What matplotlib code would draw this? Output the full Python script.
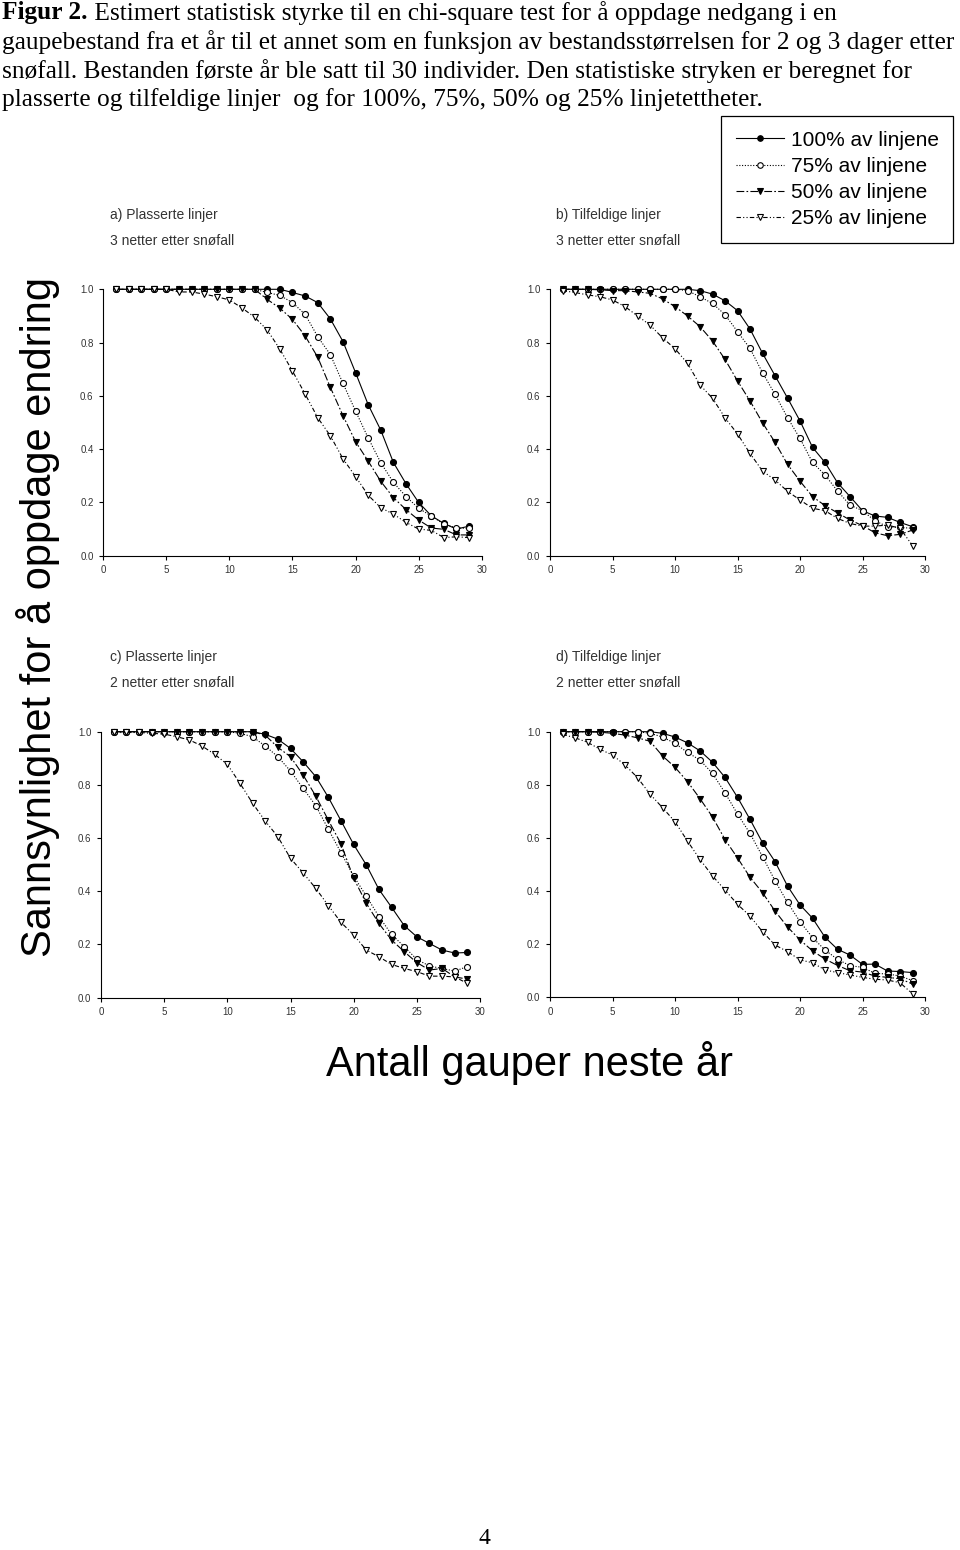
import matplotlib
matplotlib.use("Agg")
import matplotlib.pyplot as plt
from matplotlib.lines import Line2D

# ---------------- data ----------------
x_vals = list(range(1, 30))

series_labels = ["100% av linjene", "75% av linjene", "50% av linjene", "25% av linjene"]

# a) Plasserte linjer, 3 netter etter snøfall
a_100 = [1.0]*14 + [0.988, 0.975, 0.95, 0.889, 0.804, 0.687, 0.567, 0.471, 0.35, 0.27,
                    0.2, 0.15, 0.121, 0.10, 0.111]
a_75 = [1.0]*12 + [0.988, 0.977, 0.95, 0.906, 0.822, 0.755, 0.647, 0.543, 0.442, 0.349,
                   0.275, 0.222, 0.178, 0.149, 0.119, 0.104, 0.103]
a_50 = [1.0]*12 + [0.962, 0.929, 0.887, 0.825, 0.745, 0.632, 0.526, 0.428, 0.355, 0.279,
                   0.218, 0.173, 0.134, 0.104, 0.099, 0.078, 0.078]
a_25 = [1.0, 1.0, 1.0, 1.0, 1.0, 0.99, 0.99, 0.982, 0.972, 0.96, 0.93, 0.895, 0.847, 0.775,
        0.693, 0.607, 0.518, 0.45, 0.364, 0.297, 0.227, 0.18, 0.156, 0.125, 0.10, 0.095,
        0.068, 0.071, 0.068]

# b) Tilfeldige linjer, 3 netter etter snøfall
b_100 = [1.0]*11 + [0.995, 0.982, 0.957, 0.92, 0.851, 0.76, 0.676, 0.592, 0.506, 0.407,
                    0.35, 0.274, 0.222, 0.169, 0.149, 0.144, 0.125, 0.109]
b_75 = [1.0]*10 + [0.995, 0.972, 0.947, 0.905, 0.841, 0.778, 0.687, 0.606, 0.518, 0.44,
                   0.35, 0.303, 0.243, 0.19, 0.169, 0.131, 0.109, 0.106, 0.103]
b_50 = [1.0, 1.0, 1.0, 0.998, 0.995, 0.995, 0.99, 0.985, 0.964, 0.935, 0.9, 0.86, 0.806,
        0.737, 0.656, 0.581, 0.499, 0.426, 0.343, 0.28, 0.222, 0.188, 0.161, 0.134, 0.113,
        0.086, 0.075, 0.08, 0.096]
b_25 = [0.995, 0.988, 0.979, 0.972, 0.96, 0.935, 0.9, 0.866, 0.818, 0.777, 0.722, 0.641,
        0.591, 0.518, 0.457, 0.384, 0.318, 0.284, 0.242, 0.209, 0.178, 0.169, 0.14, 0.121,
        0.111, 0.111, 0.115, 0.103, 0.038]

# c) Plasserte linjer, 2 netter etter snøfall
c_100 = [1.0]*12 + [0.99, 0.972, 0.937, 0.887, 0.831, 0.753, 0.665, 0.576, 0.499, 0.407,
                    0.34, 0.271, 0.229, 0.204, 0.179, 0.168, 0.17]
c_75 = [1.0]*10 + [0.994, 0.981, 0.946, 0.906, 0.852, 0.787, 0.722, 0.633, 0.545, 0.457,
                   0.382, 0.305, 0.238, 0.192, 0.144, 0.119, 0.11, 0.10, 0.117]
c_50 = [1.0]*12 + [0.987, 0.941, 0.906, 0.837, 0.758, 0.667, 0.578, 0.449, 0.355, 0.279,
                   0.217, 0.173, 0.132, 0.104, 0.11, 0.078, 0.07]
c_25 = [0.997, 0.997, 0.997, 0.994, 0.991, 0.981, 0.969, 0.946, 0.915, 0.877, 0.806, 0.731,
        0.664, 0.605, 0.524, 0.469, 0.411, 0.346, 0.283, 0.236, 0.179, 0.154, 0.125, 0.11,
        0.098, 0.081, 0.081, 0.078, 0.054]

# d) Tilfeldige linjer, 2 netter etter snøfall
d_100 = [1.0]*8 + [0.994, 0.98, 0.958, 0.928, 0.885, 0.828, 0.753, 0.67, 0.582, 0.511,
                   0.419, 0.348, 0.298, 0.226, 0.181, 0.159, 0.124, 0.125, 0.099, 0.097, 0.093]
d_75 = [1.0]*7 + [0.994, 0.98, 0.956, 0.922, 0.893, 0.843, 0.77, 0.69, 0.617, 0.53, 0.439,
                  0.357, 0.285, 0.225, 0.178, 0.143, 0.119, 0.113, 0.09, 0.088, 0.08, 0.063]
d_50 = [1.0, 1.0, 1.0, 0.998, 0.994, 0.987, 0.977, 0.964, 0.909, 0.866, 0.812, 0.748,
        0.679, 0.594, 0.525, 0.452, 0.394, 0.325, 0.265, 0.216, 0.175, 0.144, 0.12, 0.10,
        0.095, 0.08, 0.075, 0.07, 0.05]
d_25 = [0.99, 0.977, 0.96, 0.934, 0.912, 0.875, 0.827, 0.765, 0.714, 0.661, 0.588, 0.519,
        0.457, 0.404, 0.35, 0.306, 0.247, 0.197, 0.172, 0.141, 0.13, 0.103, 0.093, 0.084,
        0.075, 0.068, 0.065, 0.055, 0.013]

panel_titles = ["a) Plasserte linjer", "b) Tilfeldige linjer",
                "c) Plasserte linjer", "d) Tilfeldige linjer"]
panel_subtitles = ["3 netter etter snøfall", "3 netter etter snøfall",
                   "2 netter etter snøfall", "2 netter etter snøfall"]
panel_data = [[a_100, a_75, a_50, a_25], [b_100, b_75, b_50, b_25],
              [c_100, c_75, c_50, c_25], [d_100, d_75, d_50, d_25]]

x_ticks = [0, 5, 10, 15, 20, 25, 30]
y_ticks = [0.0, 0.2, 0.4, 0.6, 0.8, 1.0]

caption_bold = "Figur 2."
caption_lines = [
    " Estimert statistisk styrke til en chi-square test for å oppdage nedgang i en",
    "gaupebestand fra et år til et annet som en funksjon av bestandsstørrelsen for 2 og 3 dager etter",
    "snøfall. Bestanden første år ble satt til 30 individer. Den statistiske stryken er beregnet for",
    "plasserte og tilfeldige linjer  og for 100%, 75%, 50% og 25% linjetettheter.",
]
y_label = "Sannsynlighet for å oppdage endring"
x_label = "Antall gauper neste år"
page_number = "4"

# ---------------- styling ----------------
W, H = 960, 1550
styles = [
    dict(linestyle="-", marker="o", mfc="black", mec="black"),
    dict(linestyle=(0, (1, 1.5)), marker="o", mfc="white", mec="black"),
    dict(linestyle=(0, (7, 2, 1.5, 2)), marker="v", mfc="black", mec="black"),
    dict(linestyle=(0, (4, 2, 1, 2, 1, 2)), marker="v", mfc="white", mec="black"),
]

fig = plt.figure(figsize=(W / 100, H / 100), dpi=100)
fig.patch.set_facecolor("white")

serif = ["Liberation Serif", "DejaVu Serif"]
sans = ["Liberation Sans", "DejaVu Sans"]

def fx(px):
    return px / W

def fy(py):
    return 1 - py / H

# caption
cap_fs = 18.3
t = fig.text(fx(2), fy(13), caption_bold, family=serif, fontsize=cap_fs,
             fontweight="bold", va="center", ha="left")
fig.canvas.draw()
bb = t.get_window_extent()
fig.text(bb.x1 / W, fy(13), caption_lines[0], family=serif, fontsize=cap_fs,
         va="center", ha="left")
for i, line in enumerate(caption_lines[1:]):
    fig.text(fx(2), fy(42 + 29 * i), line, family=serif, fontsize=cap_fs,
             va="center", ha="left")

# axes rectangles: (x0, x1, ytop(1.0), ybottom(0.0)) in pixels
rects = [(103.3, 481.7, 289.3, 555.7), (550, 925, 289.3, 555.7),
         (101, 480, 731.7, 997.7), (550, 925, 731.7, 997.3)]

for k, (x0, x1, yt, yb) in enumerate(rects):
    ax = fig.add_axes([fx(x0), fy(yb), (x1 - x0) / W, (yb - yt) / H])
    for s, ydata in zip(styles, panel_data[k]):
        ax.plot(x_vals, ydata, color="black", lw=0.8, linestyle=s["linestyle"],
                marker=s["marker"], markersize=4.3, markerfacecolor=s["mfc"],
                markeredgecolor=s["mec"], markeredgewidth=0.8, clip_on=False)
    ax.set_xlim(0, 30)
    ax.set_ylim(0, 1.0)
    ax.set_xticks(x_ticks)
    ax.set_yticks(y_ticks)
    ax.set_yticklabels([f"{v:.1f}" for v in y_ticks])
    for sp in ["top", "right"]:
        ax.spines[sp].set_visible(False)
    for sp in ["left", "bottom"]:
        ax.spines[sp].set_linewidth(0.8)
    ax.tick_params(direction="out", length=3, width=0.8, labelsize=7,
                   labelcolor="#333333", pad=4)
    for lab in ax.get_xticklabels() + ax.get_yticklabels():
        lab.set_family(sans)
    ax.patch.set_alpha(0)
    tx = 110 if k % 2 == 0 else 556
    ty = 215 if k < 2 else 657
    fig.text(fx(tx), fy(ty), panel_titles[k], family=sans, fontsize=10,
             color="#333333", va="center", ha="left")
    fig.text(fx(tx), fy(ty + 26), panel_subtitles[k], family=sans, fontsize=10,
             color="#333333", va="center", ha="left")

# legend
handles = [Line2D([0], [0], color="black", lw=0.8, linestyle=s["linestyle"],
                  marker=s["marker"], markersize=4, markerfacecolor=s["mfc"],
                  markeredgecolor=s["mec"], markeredgewidth=0.8) for s in styles]
leg = fig.legend(handles, series_labels, loc="upper left",
                 bbox_to_anchor=(fx(721), fy(116)), frameon=True, fancybox=False,
                 edgecolor="black", framealpha=1, borderpad=0.7, labelspacing=0.35,
                 handlelength=2.3, handletextpad=0.35, borderaxespad=0,
                 prop={"family": sans, "size": 15})
leg.get_frame().set_linewidth(0.9)

# axis labels
fig.text(fx(38), fy(617), y_label, family=sans, fontsize=30, rotation=90,
         va="center", ha="center")
fig.text(fx(530), fy(1063), x_label, family=sans, fontsize=30,
         va="center", ha="center")

fig.text(fx(484), fy(1538), page_number, family=serif, fontsize=17,
         va="center", ha="center")

fig.savefig("out.png", dpi=100, facecolor="white")
